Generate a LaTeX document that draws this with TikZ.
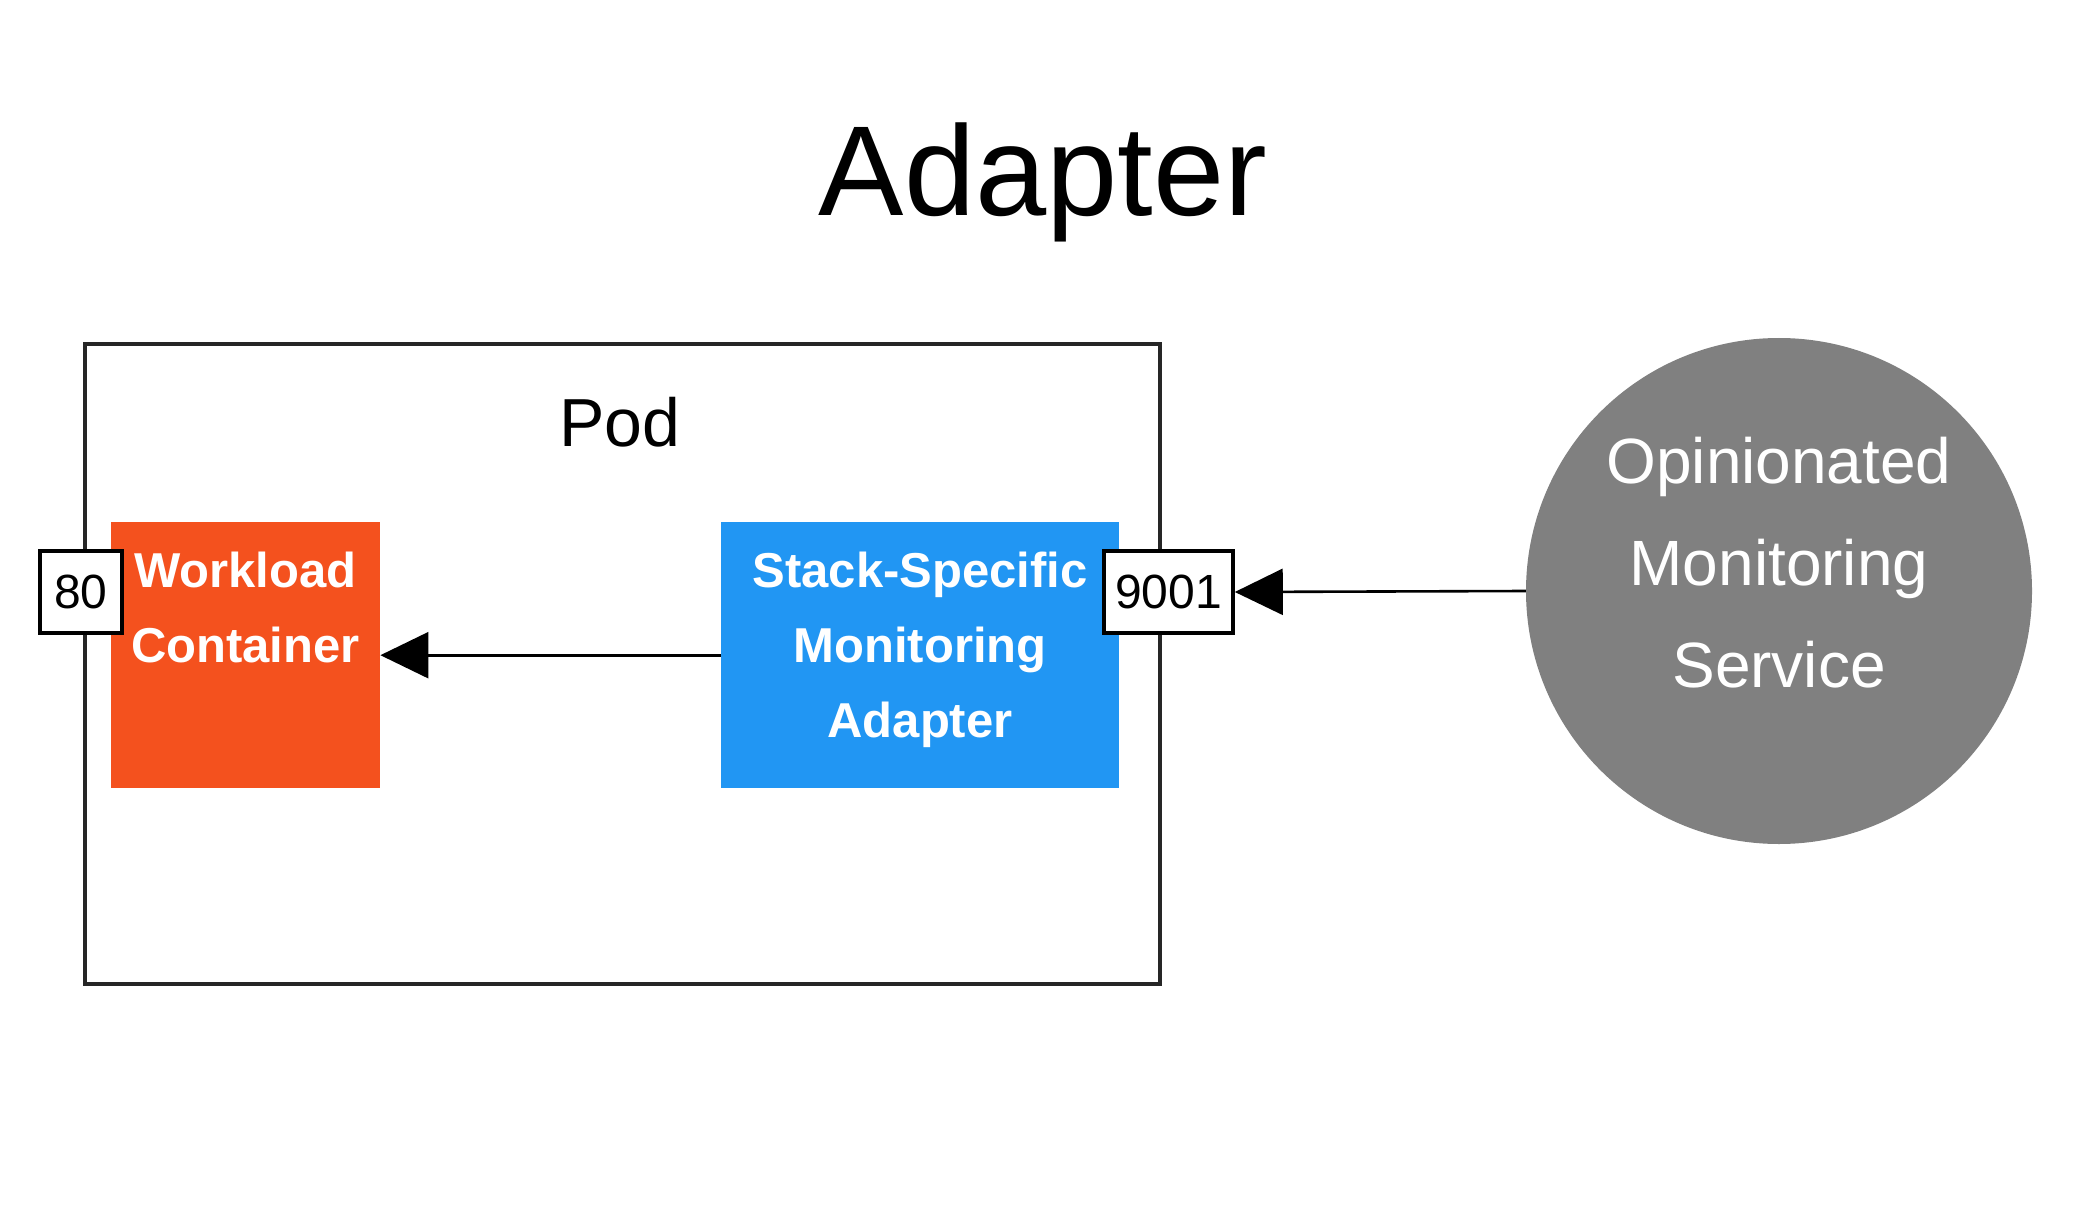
\documentclass[tikz,border=0pt]{standalone}
\usepackage{fontspec}
\setmainfont{Liberation Sans}
\usetikzlibrary{arrows.meta}
\definecolor{wlred}{HTML}{F4511E}
\definecolor{adblue}{HTML}{2196F3}
\definecolor{svcgray}{HTML}{808080}
\tikzset{
  box/.style={draw=none, inner sep=0pt, anchor=north west},
  portbox/.style={draw=black, line width=3.6pt, fill=white, inner sep=0pt, minimum height=82pt, font=\fontsize{48}{58}\selectfont},
  boxtext/.style={text=white, align=center, anchor=base, inner sep=0pt, font=\fontsize{49}{75}\bfseries\selectfont},
  arr/.style={line width=2.6pt, -{Triangle[length=48pt,width=46pt]}}
}
\begin{document}
\begin{tikzpicture}[x=1pt,y=-1pt]
\useasboundingbox (0,0) rectangle (2085,1230);
% title
\node[anchor=base, inner sep=0pt, font=\fontsize{128}{150}\selectfont] (title) at (1043,216) {Adapter};
% pod
\node[draw=black!85, line width=4pt, minimum width=1075pt, minimum height=640pt, inner sep=0pt, anchor=north west] (pod) at (83,342) {};
\node[anchor=base, inner sep=0pt, font=\fontsize{68}{80}\selectfont] (podlabel) at (620,446) {Pod};
% boxes
\node[box, fill=wlred, minimum width=269pt, minimum height=266pt] (work) at (111,522) {};
\node[box, fill=adblue, minimum width=398pt, minimum height=266pt] (adapt) at (721,522) {};
\node[boxtext] (worktext) at (245.5,662) {Workload\\Container};
\node[boxtext] (adapttext) at (920,737) {Stack-Specific\\Monitoring\\Adapter};
% ports
\node[portbox, minimum width=82pt] (p80) at (81,592) {80};
\node[portbox, minimum width=129pt] (p9001) at (1168.5,592) {9001};
% service
\node[circle, fill=svcgray, minimum size=506pt, inner sep=0pt] (svc) at (1779,591) {};
\node[text=white, align=center, anchor=base, inner sep=0pt, font=\fontsize{64}{102}\selectfont] (svctext) at (1779,687) {Opinionated\\Monitoring\\Service};
% arrows
\draw[arr] (adapt.west) -- (work.east);
\draw[arr] (svc.west) -- (p9001.east);
\end{tikzpicture}
\end{document}
